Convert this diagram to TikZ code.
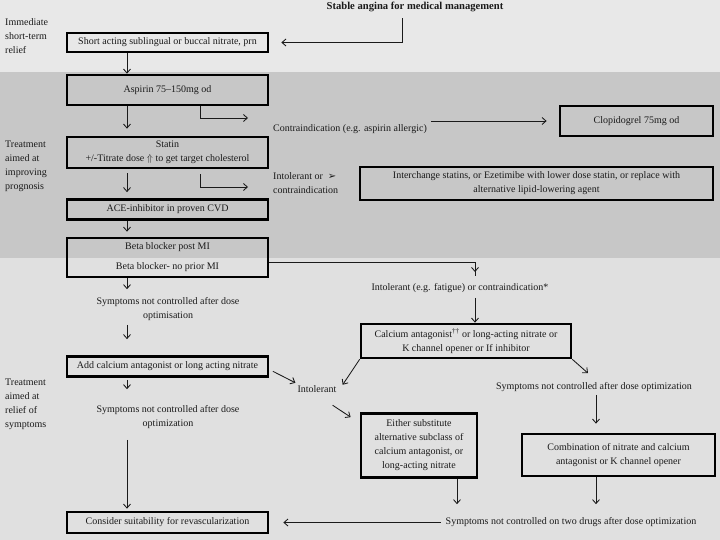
\documentclass[tikz,border=0pt]{standalone}
\usepackage{fontspec}
\setmainfont{Liberation Serif}
\newfontfamily\symfnt{DejaVu Sans}
\usetikzlibrary{arrows.meta}
\newcommand\myfs{\fontsize{10}{14}\selectfont}
\definecolor{bandA}{HTML}{E8E8E8}
\definecolor{bandB}{HTML}{C7C7C7}
\definecolor{bandC}{HTML}{E0E0E0}
\definecolor{linec}{HTML}{1A1A1A}
\begin{document}
\begin{tikzpicture}[x=1pt,y=-1pt,
  box/.style={draw=black,line width=2.7pt,inner sep=1pt,align=center,font=\myfs,text=linec},
  lbl/.style={inner sep=0pt,align=center,font=\myfs,text=linec},
  side/.style={inner sep=0pt,align=left,font=\myfs,anchor=west,text=linec},
  arr/.style={draw=linec,line width=0.85pt,-{Straight Barb[length=4pt,width=7pt]}},
  ln/.style={draw=linec,line width=0.85pt}]
\useasboundingbox (0,0) rectangle (720,540);
\fill[bandA] (0,0) rectangle (720,72);
\fill[bandB] (0,72) rectangle (720,258);
\fill[bandC] (0,258) rectangle (720,540);

\coordinate (col) at (127,0);
\coordinate (col2) at (596,0);
\coordinate (col3) at (457,0);

% left labels
\node[side] (l1) at (5,36) {Immediate\\short-term\\relief};
\node[side] (l2) at (5,166) {Treatment\\aimed at\\improving\\prognosis};
\node[side] (l3) at (5,404) {Treatment\\aimed at\\relief of\\symptoms};

% title
\node[lbl,font=\fontsize{10.6}{13}\selectfont\bfseries] (title) at (415,7) {Stable angina for medical management};

% main column boxes
\node[box,minimum width=201pt,minimum height=19pt] (nitrate) at (167.5,42.5) {Short acting sublingual or buccal nitrate, prn};
\node[box,minimum width=201pt,minimum height=30pt] (aspirin) at (167.5,90) {Aspirin 75--150mg od};
\node[box,minimum width=201pt,minimum height=31pt] (statin) at (167.5,152.5) {Statin\\+/-Titrate dose $\Uparrow$ to get target cholesterol};
\node[box,minimum width=201pt,minimum height=20pt] (ace) at (167.5,209.5) {ACE-inhibitor in proven CVD};
\node[box,minimum width=201pt,minimum height=39pt] (beta) at (167.5,257.5) {Beta blocker post MI\\[6pt]Beta blocker- no prior MI};
\node[lbl] (sym1) at (168,309) {Symptoms not controlled after dose\\optimisation};
\node[box,minimum width=201pt,minimum height=20pt] (add) at (167.5,366.5) {Add calcium antagonist or long acting nitrate};
\node[lbl] (sym2) at (168,417) {Symptoms not controlled after dose\\optimization};
\node[box,minimum width=201pt,minimum height=21pt] (revasc) at (167.5,522.5) {Consider suitability for revascularization};

% right side
\node[side] (contra) at (273,129) {Contraindication (e.g. aspirin allergic)};
\node[box,minimum width=153pt,minimum height=30pt] (clopid) at (636.5,121) {Clopidogrel 75mg od};
\node[side] (intor) at (273,183.5) {Intolerant or\ \ {\symfnt\fontsize{10}{10}\selectfont ➢}\\contraindication};
\node[box,minimum width=353pt,minimum height=33pt] (inter) at (536.5,183.5) {Interchange statins, or Ezetimibe with lower dose statin, or replace with\\alternative lipid-lowering agent};

\node[lbl] (intol1) at (460,288) {Intolerant (e.g. fatigue) or contraindication*};
\node[box,minimum width=210pt,minimum height=34pt] (calc) at (466,341) {Calcium\ antagonist\textsuperscript{††} or long-acting nitrate or\\K channel opener or If inhibitor};
\node[lbl] (intol2) at (317,389.5) {Intolerant};
\node[box,minimum width=116pt,minimum height=64pt] (either) at (419,445.5) {Either substitute\\alternative subclass of\\calcium antagonist, or\\long-acting nitrate};
\node[lbl] (sym4) at (594,387) {Symptoms not controlled after dose optimization};
\node[box,minimum width=193pt,minimum height=42pt] (comb) at (618.5,455) {Combination of nitrate and calcium\\antagonist or K channel opener};
\node[lbl] (sym5) at (571,522) {Symptoms not controlled on two drugs after dose optimization};

\coordinate (e1) at (248,118);
\coordinate (e2) at (248,187);
\coordinate (k1) at (475,272);

% connectors
\draw[arr,shorten >=12pt,shorten <=6pt] ([xshift=-13pt]title.south) |- (nitrate.east);
\draw[arr] (col |- nitrate.south) -- (col |- aspirin.north);
\draw[arr,shorten >=7pt] (col |- aspirin.south) -- (col |- statin.north);
\draw[arr] ([xshift=135pt]aspirin.south west) |- (e1);
\draw[arr,shorten <=4pt,shorten >=12pt] (contra.east |- clopid.west) -- (clopid.west);
\draw[arr,shorten <=4pt,shorten >=6pt] (col |- statin.south) -- (col |- ace.north);
\draw[arr,shorten <=5pt] ([xshift=135pt]statin.south west) |- (e2);
\draw[arr,shorten >=5pt] (col |- ace.south) -- (col |- beta.north);
\draw[ln] ([yshift=-4.5pt]beta.east) -| ([yshift=-4pt]k1);
\draw[arr] ([yshift=-4.5pt]beta.east -| k1) -- (k1);
\draw[arr,shorten <=5pt] (intol1.south -| k1) -- (calc.north -| k1);
\draw[arr,shorten >=8pt] (col |- beta.south) -- (col |- sym1.north);
\draw[arr,shorten <=4pt,shorten >=16pt] (col |- sym1.south) -- (col |- add.north);
\draw[arr,shorten <=2pt,shorten >=16pt] (col |- add.south) -- (col |- sym2.north);
\draw[arr,shorten <=11pt,shorten >=2pt] (col |- sym2.south) -- (col |- revasc.north);
\draw[arr,shorten <=4pt] ([yshift=-3pt]add.east) -- ([xshift=-2pt,yshift=3pt]intol2.north west);
\draw[arr] (calc.south west) -- ([xshift=6pt,yshift=1pt]intol2.north east);
\draw[arr] ([xshift=-4pt,yshift=-12pt]intol2.south east) -- ([xshift=-9pt,yshift=-5pt]either.north west);
\draw[arr] (calc.south east) -- ([xshift=-6pt,yshift=9pt]sym4.north);
\draw[arr,shorten <=3pt,shorten >=9pt] (col2 |- sym4.south) -- (col2 |- comb.north);
\draw[arr,shorten >=13pt] (col2 |- comb.south) -- (col2 |- sym5.north);
\draw[arr,shorten >=13pt] (col3 |- either.south) -- (col3 |- sym5.north);
\draw[arr,shorten <=5pt,shorten >=14pt] (sym5.west |- revasc.east) -- (revasc.east);
\end{tikzpicture}
\end{document}
